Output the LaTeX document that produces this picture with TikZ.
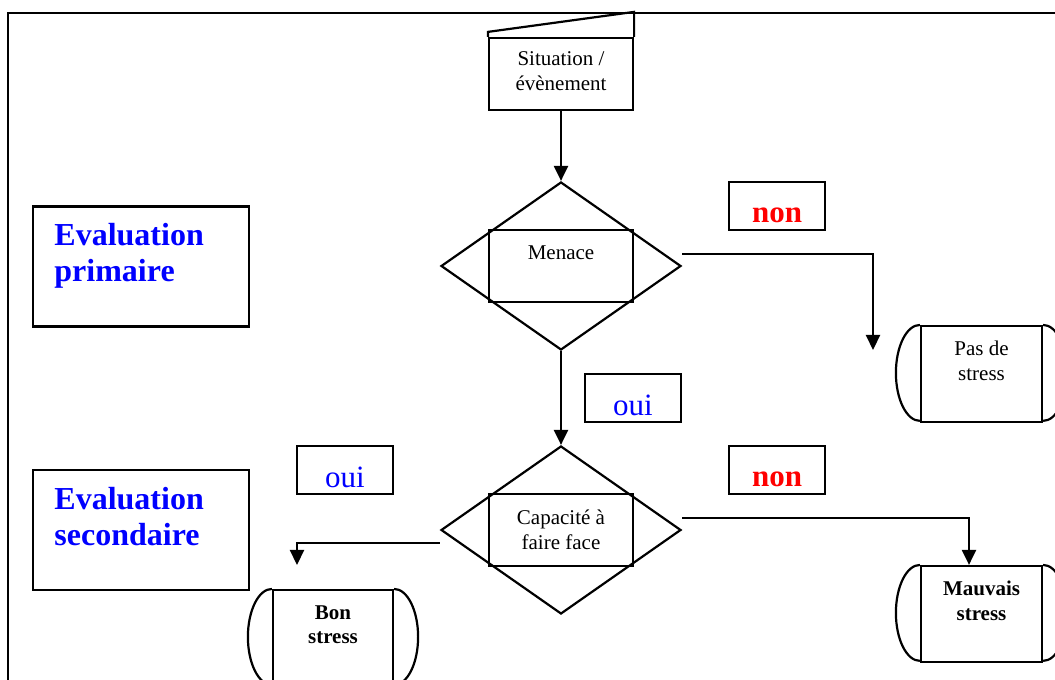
\documentclass[tikz,border=0pt]{standalone}
\usepackage{fontspec}
\setmainfont{Liberation Serif}
\usetikzlibrary{shapes.geometric,arrows.meta}

\begin{document}
\begin{tikzpicture}[x=1pt,y=1pt,line width=2.2pt,
    every node/.style={align=center,font=\fontsize{21}{25}\selectfont},
    boite/.style={draw,rectangle,minimum width=144,minimum height=72,inner sep=0},
    losange/.style={draw,diamond,minimum width=240,minimum height=168,inner sep=0},
    issue/.style={draw,rectangle,minimum width=121,minimum height=96,inner sep=0},
    reponse/.style={draw,rectangle,minimum width=96,minimum height=48,inner sep=0},
    evalbox/.style={draw,rectangle,minimum width=216,minimum height=120,inner sep=0},
    evaltxt/.style={anchor=base west,align=left,text=blue,font=\bfseries\fontsize{32}{36}\selectfont},
    motnon/.style={anchor=base,text=red,font=\bfseries\fontsize{31}{36}\selectfont},
    motoui/.style={anchor=base,text=blue,font=\fontsize{31}{36}\selectfont},
    fleche/.style={-{Triangle[length=15pt,width=14pt]}}]
  \useasboundingbox (0,0) rectangle (1055,680);
  \clip (0,0) rectangle (1055,680);
  \draw (8,0) -- (8,667) -- (1055,667);

  % evaluations
  \node[evalbox] (evp) at (141,413.5) {};
  \node[evaltxt] (evptxt) at (50,398) {Evaluation\\primaire};
  \node[evalbox] (evs) at (141,150) {};
  \node[evaltxt] (evstxt) at (50,134) {Evaluation\\secondaire};

  % situation
  \node[boite] (sit) at (561,606) {};
  \draw (sit.north west) -- ++(0,5) -- ([yshift=25]sit.north east) -- (sit.north east);
  \node[anchor=base] (sittxt) at ([yshift=-54]sit.north) {Situation /\\évènement};

  % menace
  \node[losange] (menace) at (561,414) {};
  \node[boite] (menaceb) at (menace) {};
  \node[anchor=base] (menacetxt) at ([yshift=-31]menaceb.north) {Menace};

  % capacite
  \node[losange] (capa) at (561,150) {};
  \node[boite] (capab) at (capa) {};
  \node[anchor=base] (capatxt) at ([yshift=-57]capab.north) {Capacité à\\faire face};

  % issues
  \node[issue] (pas) at (981.5,306) {};
  \node[anchor=base] (pastxt) at ([yshift=-56]pas.north) {Pas de\\stress};
  \node[issue] (mauvais) at (981.5,66) {};
  \node[anchor=base,font=\bfseries\fontsize{21}{25}\selectfont] (mauvaistxt) at ([yshift=-56]mauvais.north) {Mauvais\\stress};
  \node[issue,minimum width=120] (bon) at (333,42) {};
  \node[anchor=base,font=\bfseries\fontsize{21}{24}\selectfont] (bontxt) at ([yshift=-55]bon.north) {Bon\\stress};
  \foreach \t in {pas,mauvais,bon}{
    \draw (\t.north west) arc[start angle=90,end angle=270,x radius=24,y radius=48];
    \draw (\t.north east) arc[start angle=90,end angle=-90,x radius=24,y radius=48];
  }

  % reponses
  \node[reponse] (non1) at (777,474) {};
  \node[motnon] (non1txt) at ([yshift=9]non1.south) {non};
  \node[reponse] (oui1) at (633,282) {};
  \node[motoui] (oui1txt) at ([yshift=8]oui1.south) {oui};
  \node[reponse] (oui2) at (345,210) {};
  \node[motoui] (oui2txt) at ([yshift=8]oui2.south) {oui};
  \node[reponse] (non2) at (777,210) {};
  \node[motnon] (non2txt) at ([yshift=9]non2.south) {non};

  % fleches
  \coordinate (pasfin) at (873,330);
  \coordinate (bonfin) at (297,115);
  \draw[fleche] (sit.south) -- (menace.north);
  \draw[fleche] (menace.south) -- (capa.north);
  \draw[fleche] ([yshift=12]menace.east) -| (pasfin);
  \draw[fleche] ([yshift=12]capa.east) -| ([xshift=-12.5]mauvais.north);
  \draw[fleche] ([yshift=-13]capa.west) -| (bonfin);
\end{tikzpicture}
\end{document}
